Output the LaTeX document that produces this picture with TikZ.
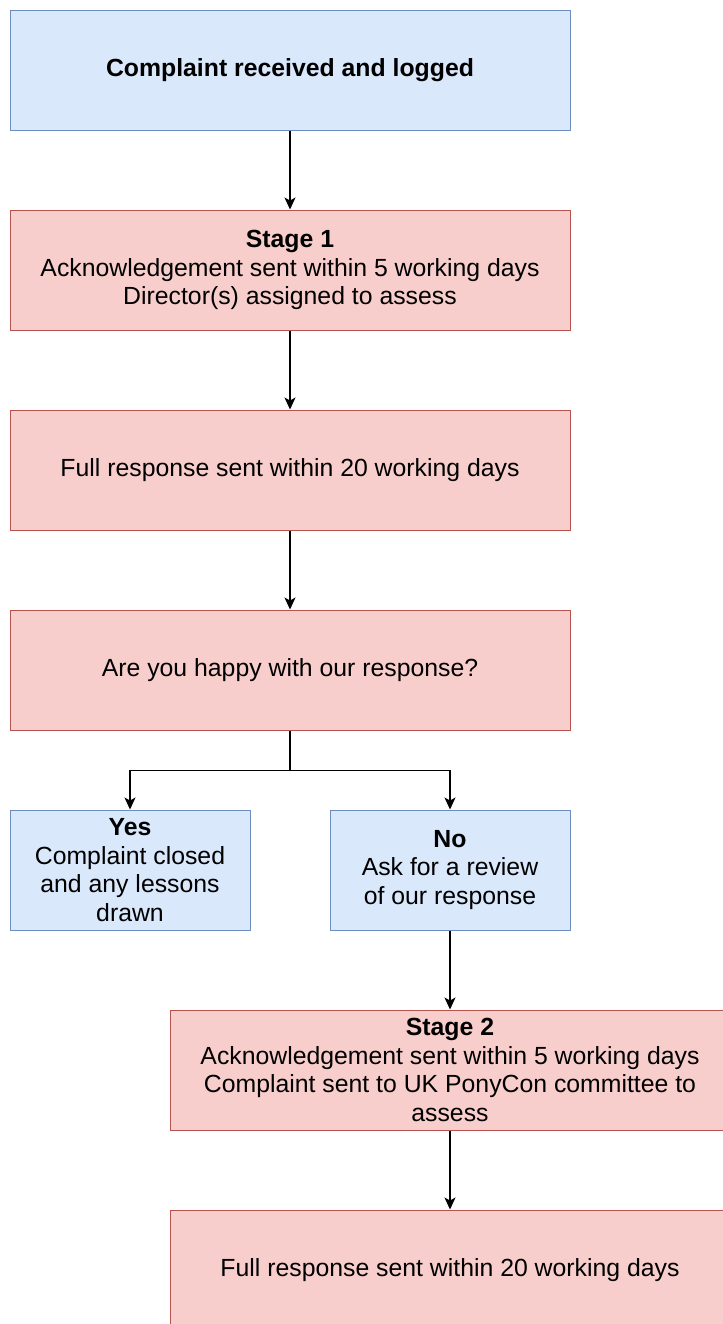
\documentclass[tikz,border=0pt]{standalone}
\usepackage{fontspec}
\setmainfont{Liberation Sans}
\usetikzlibrary{arrows.meta}

\definecolor{bluefill}{HTML}{DAE8FC}
\definecolor{blueline}{HTML}{6C8EBF}
\definecolor{redfill}{HTML}{F8CECC}
\definecolor{redline}{HTML}{B85450}

\begin{document}
\begin{tikzpicture}[node distance=100pt,
  every node/.style={rectangle, line width=0.5pt, align=center, inner sep=0pt,
    minimum width=280pt, minimum height=60pt, font=\fontsize{12.4}{14.35}\selectfont},
  bluebox/.style={draw=blueline, fill=bluefill},
  redbox/.style={draw=redline, fill=redfill},
  smallbox/.style={minimum width=120pt},
  >={Stealth[length=6pt, width=5.5pt, inset=1.5pt]}, line width=0.6pt]

\clip (0,0) rectangle (361.5pt,-662pt);

\node (received) [bluebox] at (145pt,-35pt) {\bfseries Complaint received and logged};
\node (stage1) [redbox, below of=received] {\textbf{Stage 1}\\Acknowledgement sent within 5 working days\\Director(s) assigned to assess};
\node (response1) [redbox, below of=stage1] {Full response sent within 20 working days};
\node (happy) [redbox, below of=response1] {Are you happy with our response?};
\node (yes) [bluebox, smallbox, below of=happy, xshift=-80pt] {\textbf{Yes}\\Complaint closed\\and any lessons\\drawn};
\node (no) [bluebox, smallbox, below of=happy, xshift=80pt] {\textbf{No}\\Ask for a review\\of our response};
\node (stage2) [redbox, below of=no] {\textbf{Stage 2}\\Acknowledgement sent within 5 working days\\Complaint sent to UK PonyCon committee to\\assess};
\node (response2) [redbox, below of=stage2] {Full response sent within 20 working days};

\draw[->] (received) -- (stage1);
\draw[->] (stage1) -- (response1);
\draw[->] (response1) -- (happy);
\draw (happy.south) -- ++(0,-20pt) coordinate (split);
\draw[->] (split) -| (yes);
\draw[->] (split) -| (no);
\draw[->] (no) -- (stage2);
\draw[->] (stage2) -- (response2);

\end{tikzpicture}
\end{document}
